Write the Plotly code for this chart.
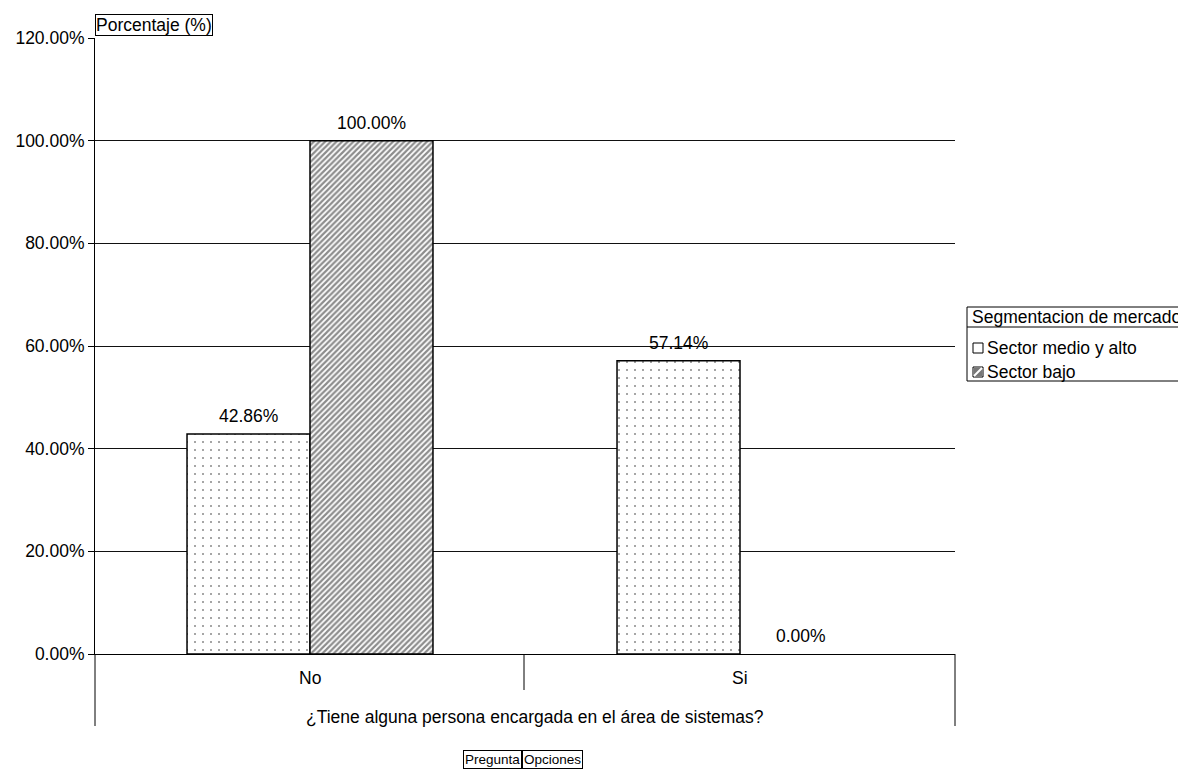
import plotly.graph_objects as go

# ---- data ----
categories = ["No", "Si"]
series_names = ["Sector medio y alto", "Sector bajo"]
sector_medio_alto = [0.4286, 0.5714]
sector_bajo = [1.0, 0.0]
y_ticks = [0, 0.2, 0.4, 0.6, 0.8, 1.0, 1.2]
axis_title = "¿Tiene alguna persona encargada en el área de sistemas?"
y_title = "Porcentaje (%)"
legend_title = "Segmentacion de mercado"
field_buttons = ["Pregunta", "Opciones"]

FONT = "Arial, Liberation Sans, sans-serif"
OFF = 8  # default page margin of the html body
W, H = 1186 - OFF, 769 - OFF
L, R, T, B = 95 - OFF, 955 - OFF, 38 - OFF, 654 - OFF  # plot area in figure pixels


def px(x):
    return (x - OFF - L) / (R - L)


def py(y):
    return (B - (y - OFF)) / (B - T)


BARGAP = 0.428
bar_w = (1 - BARGAP) / 2

fig = go.Figure()
fig.add_trace(go.Bar(
    name=series_names[0], x=categories, y=sector_medio_alto,
    marker=dict(color="white", line=dict(color="black", width=[1.5 if v > 0 else 0 for v in sector_medio_alto]),
                pattern=dict(shape=".", fgcolor="#111", bgcolor="white", size=8, solidity=0.05)),
    showlegend=False, hoverinfo="skip"))
fig.add_trace(go.Bar(
    name=series_names[1], x=categories, y=sector_bajo,
    marker=dict(color="white", line=dict(color="black", width=[1.5 if v > 0 else 0 for v in sector_bajo]),
                pattern=dict(shape="/", fgcolor="#1a1a1a", bgcolor="white", size=4, solidity=0.55)),
    showlegend=False, hoverinfo="skip"))

annotations = []
shapes = []
FS = 17.5

# data labels
for s_idx, vals in enumerate([sector_medio_alto, sector_bajo]):
    off = (s_idx - 0.5) * bar_w
    for c_idx, v in enumerate(vals):
        annotations.append(dict(x=c_idx + off, y=v, xref="x", yref="y",
                                text=f"{v*100:.2f}%", showarrow=False,
                                yanchor="middle", yshift=18,
                                font=dict(family=FONT, size=FS, color="black")))

# y title box
annotations.append(dict(x=px(95), y=py(36), xref="paper", yref="paper", xanchor="left", yanchor="bottom",
                        text=y_title, showarrow=False, bordercolor="black", borderwidth=1, borderpad=0,
                        bgcolor="white", font=dict(family=FONT, size=FS, color="black")))

# category labels
for c_idx, c in enumerate(categories):
    annotations.append(dict(x=c_idx, y=py(678), xref="x", yref="paper", text=c, showarrow=False,
                            yanchor="middle", font=dict(family=FONT, size=FS, color="black")))
annotations.append(dict(x=px(535), y=py(717), xref="paper", yref="paper", text=axis_title,
                        showarrow=False, yanchor="middle", font=dict(family=FONT, size=FS, color="black")))

# field buttons
annotations.append(dict(x=px(522), y=py(759), xref="paper", yref="paper", xanchor="right", yanchor="middle",
                        text=field_buttons[0], showarrow=False, bordercolor="black", borderwidth=1, borderpad=1,
                        font=dict(family=FONT, size=13.5, color="black")))
annotations.append(dict(x=px(522), y=py(759), xref="paper", yref="paper", xanchor="left", yanchor="middle",
                        text=field_buttons[1], showarrow=False, bordercolor="black", borderwidth=1, borderpad=1,
                        font=dict(family=FONT, size=13.5, color="black")))

# axis lines below the plot (category frame)
shapes.append(dict(type="line", xref="paper", yref="paper", x0=0, x1=0, y0=py(654), y1=py(726),
                   line=dict(color="black", width=1)))
shapes.append(dict(type="line", xref="paper", yref="paper", x0=1, x1=1, y0=py(654), y1=py(726),
                   line=dict(color="black", width=1)))
shapes.append(dict(type="line", xref="paper", yref="paper", x0=px(524), x1=px(524), y0=py(654), y1=py(690),
                   line=dict(color="black", width=1)))

# legend
LX0 = 967
shapes.append(dict(type="rect", xref="paper", yref="paper", x0=px(LX0), x1=px(1200), y0=py(307), y1=py(381),
                   line=dict(color="black", width=1), fillcolor="white"))
shapes.append(dict(type="line", xref="paper", yref="paper", x0=px(LX0), x1=px(1200), y0=py(327), y1=py(327),
                   line=dict(color="black", width=1)))
annotations.append(dict(x=px(970), y=py(317), xref="paper", yref="paper", xanchor="left", yanchor="middle",
                        text=legend_title, showarrow=False, font=dict(family=FONT, size=FS, color="black")))
item_y = [348, 372]
for i, name in enumerate(series_names):
    yc = item_y[i]
    shapes.append(dict(type="rect", xref="paper", yref="paper", x0=px(973), x1=px(983),
                       y0=py(yc - 5), y1=py(yc + 5), line=dict(color="black", width=1), fillcolor="white"))
    if i == 1:
        shapes.append(dict(type="rect", xref="paper", yref="paper", x0=px(974), x1=px(982),
                           y0=py(yc - 4), y1=py(yc + 4), line=dict(width=0), fillcolor="#777"))
        shapes.append(dict(type="line", xref="paper", yref="paper", x0=px(974), x1=px(982),
                           y0=py(yc + 4), y1=py(yc - 4), line=dict(color="white", width=2)))
    annotations.append(dict(x=px(985), y=py(yc), xref="paper", yref="paper", xanchor="left", yanchor="middle",
                            text=name, showarrow=False, font=dict(family=FONT, size=FS, color="black")))

fig.update_layout(
    width=W, height=H,
    margin=dict(l=L, r=W - R, t=T, b=H - B, pad=0, autoexpand=False),
    paper_bgcolor="white", plot_bgcolor="white",
    barmode="group", bargap=BARGAP, bargroupgap=0,
    showlegend=False,
    font=dict(family=FONT, size=FS, color="black"),
    xaxis=dict(showticklabels=False, showgrid=False, showline=True, linecolor="black", linewidth=1,
               ticks="", zeroline=False, range=[-0.5, 1.5], fixedrange=True, automargin=False),
    yaxis=dict(range=[0, 1.2], tickvals=y_ticks, tickformat=".2%", showgrid=True, gridcolor="#111",
               gridwidth=1, showline=True, linecolor="black", linewidth=1, ticks="outside", ticklen=6,
               tickcolor="black", zeroline=False, mirror=False, tickfont=dict(family=FONT, size=FS),
               fixedrange=True, automargin=False),
    annotations=annotations, shapes=shapes,
)

fig.write_html("out.html")
